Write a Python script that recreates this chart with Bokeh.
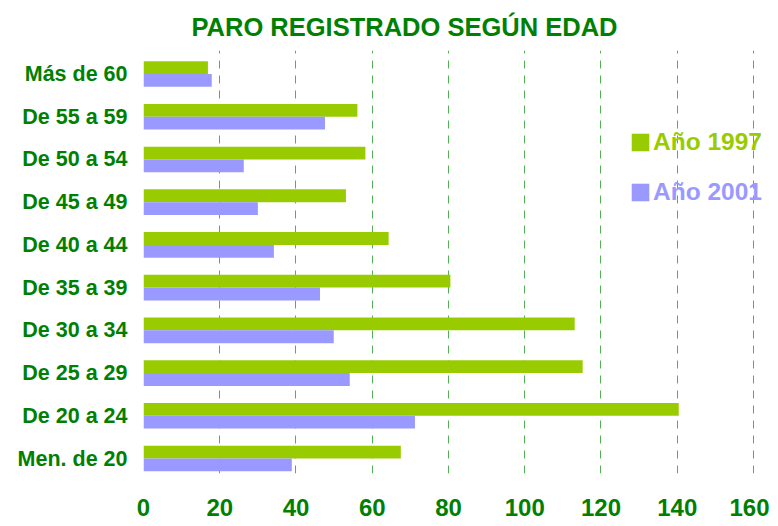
from bokeh.plotting import figure
from bokeh.models import (ColumnDataSource, Range1d, FixedTicker, Legend, LegendItem)
from bokeh.transform import dodge
from bokeh.embed import file_html
from bokeh.resources import INLINE

# ---- data ----
categories = ["Men. de 20", "De 20 a 24", "De 25 a 29", "De 30 a 34", "De 35 a 39",
              "De 40 a 44", "De 45 a 49", "De 50 a 54", "De 55 a 59", "Más de 60"]
anio_1997 = [67.5, 140.4, 115.2, 113.1, 80.5, 64.3, 53.1, 58.2, 56.1, 16.9]
anio_2001 = [38.9, 71.2, 54.1, 49.9, 46.3, 34.2, 30.0, 26.3, 47.6, 17.9]
x_ticks = [0, 20, 40, 60, 80, 100, 120, 140, 160]
series_names = ["Año 1997", "Año 2001"]
title_text = "PARO REGISTRADO SEGÚN EDAD"

GREEN_BAR = "#99CC00"
PURPLE_BAR = "#9999FF"
DARK_GREEN = "#008000"
FONT = "Liberation Sans"

positions = list(range(len(categories)))
src = ColumnDataSource(dict(pos=positions, cat=categories, v1997=anio_1997, v2001=anio_2001))

p = figure(output_backend="svg", toolbar_location=None,
           frame_width=626, frame_height=423,
           x_range=Range1d(0, 164.2), y_range=Range1d(-0.351, 9.55),
           min_border_left=143, min_border_right=0, min_border_top=50,
           min_border_bottom=52)
p.outline_line_color = None
p.background_fill_color = "white"
p.border_fill_color = "white"

# title
p.title.text = title_text
p.title.text_font = FONT
p.title.text_font_size = "25.5px"
p.title.text_font_style = "bold"
p.title.text_color = DARK_GREEN
p.title.align = "left"
p.title.offset = 48
p.title.standoff = 20

r1 = p.hbar(y=dodge("pos", 0.15, range=p.y_range), right="v1997", left=0, height=0.3,
            source=src, fill_color=GREEN_BAR, line_color=None)
r2 = p.hbar(y=dodge("pos", -0.15, range=p.y_range), right="v2001", left=0, height=0.3,
            source=src, fill_color=PURPLE_BAR, line_color=None)

# grid
p.ygrid.grid_line_color = None
p.xgrid.ticker = FixedTicker(ticks=x_ticks)
p.xgrid.grid_line_color = "#55B055"
p.xgrid.grid_line_dash = "8 7"
p.xgrid.grid_line_width = 1
p.xgrid.level = "underlay"

# x axis
xa = p.xaxis[0]
xa.ticker = FixedTicker(ticks=x_ticks)
xa.axis_line_color = None
xa.major_tick_line_color = None
xa.minor_tick_line_color = None
xa.major_tick_out = 0
xa.major_tick_in = 0
xa.major_label_standoff = 25
xa.major_label_text_font = FONT
xa.major_label_text_font_size = "24px"
xa.major_label_text_font_style = "bold"
xa.major_label_text_color = DARK_GREEN

# y axis
ya = p.yaxis[0]
ya.ticker = FixedTicker(ticks=positions)
ya.major_label_overrides = {i: c for i, c in zip(positions, categories)}
ya.axis_line_color = None
ya.major_tick_line_color = None
ya.minor_tick_line_color = None
ya.major_tick_out = 0
ya.major_tick_in = 0
ya.major_label_standoff = 16
ya.major_label_text_font = FONT
ya.major_label_text_font_size = "21.5px"
ya.major_label_text_font_style = "bold"
ya.major_label_text_color = DARK_GREEN

# legends (one per series so each label has its own colour)
for r, name, col, yloc in [(r1, series_names[0], GREEN_BAR, 317), (r2, series_names[1], PURPLE_BAR, 267)]:
    leg = Legend(items=[LegendItem(label=name, renderers=[r])], location=(486, yloc),
                 orientation="vertical", padding=0, margin=0, spacing=0,
                 glyph_width=22, glyph_height=22, label_standoff=2,
                 label_text_font=FONT, label_text_font_size="24.5px",
                 label_text_font_style="bold", label_text_color=col,
                 border_line_color=None, background_fill_alpha=0)
    p.add_layout(leg, "center")

open("out.html", "w").write(file_html(p, INLINE))
